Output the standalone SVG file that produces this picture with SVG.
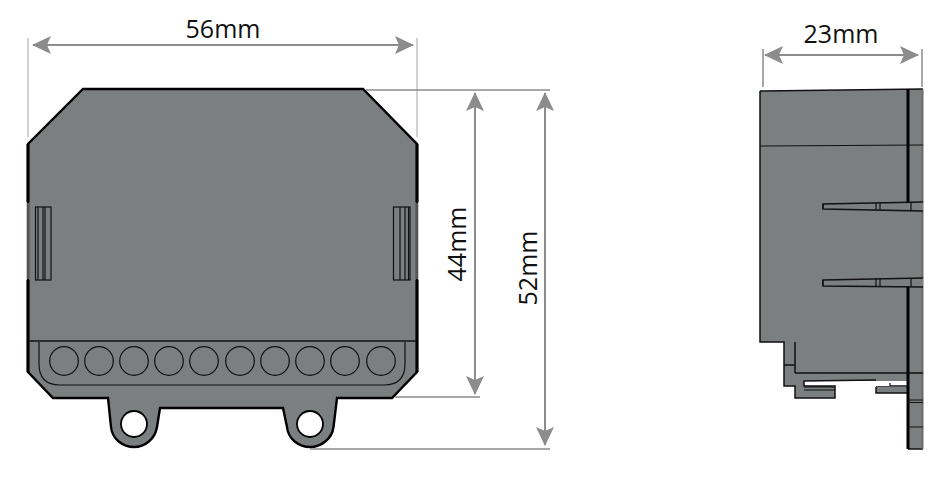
<svg xmlns="http://www.w3.org/2000/svg" width="944" height="485" viewBox="0 0 944 485">
<style>
.body{fill:#7c7f7f;stroke:#000;stroke-width:2.4;stroke-linejoin:miter}
.thick{fill:none;stroke:#000;stroke-width:3}
.thin{fill:none;stroke:#111;stroke-width:1.2}
.med{fill:none;stroke:#111;stroke-width:1.5}
.hair{fill:none;stroke:#b9b9b9;stroke-width:1.3}
.ref{fill:none;stroke:#8c8c8c;stroke-width:1.5}
.dim{fill:none;stroke:#8c8c8c;stroke-width:2}
.lbl{font-family:"Open Sans","Noto Sans",sans-serif;font-size:25px;fill:#111}
</style>
<defs>
<marker id="ah" viewBox="0 0 19 18" refX="18" refY="9" markerWidth="19" markerHeight="18" markerUnits="userSpaceOnUse" orient="auto-start-reverse">
<path d="M0 0L19 9L0 18L4 9Z" fill="#8c8c8c"/>
</marker>
</defs>
<rect width="944" height="485" fill="#fff"/>
<g id="front-view">
<path class="body" d="M83 89H363L417 144V372L392 398H337L333.500 427C332 439 321 447 310 447C299 447 288 439 287 427L283 408H160L157 427C155 439 145 447 134 447C123 447 112 439 111 427L108 398H53L28 372V144Z"/>
<path d="M28 144V202M417 144V202M28 280V372M417 280V372" class="thick"/>
<path d="M28 203V279M417 203V279" fill="none" stroke="#555" stroke-width="2"/>
<circle cx="134" cy="424" r="13" fill="#fff" stroke="#000" stroke-width="1.800"/>
<circle cx="310" cy="424" r="13" fill="#fff" stroke="#000" stroke-width="1.800"/>
<path class="med" d="M29 341H416"/>
<path class="thin" d="M39 342V364Q39 385 60 385H384Q405 385 405 364V342"/>
<g class="thin">
<circle cx="64" cy="361" r="14.300"/><circle cx="99" cy="361" r="14.300"/><circle cx="134" cy="361" r="14.300"/><circle cx="169" cy="361" r="14.300"/><circle cx="204" cy="361" r="14.300"/><circle cx="240" cy="361" r="14.300"/><circle cx="275" cy="361" r="14.300"/><circle cx="310" cy="361" r="14.300"/><circle cx="345" cy="361" r="14.300"/><circle cx="381" cy="361" r="14.300"/>
</g>
<g id="slot-left" class="thin">
<rect x="35.500" y="207" width="15.500" height="73"/>
<path d="M38 207V280M43 207V280M45 207V280"/>
</g>
<g id="slot-right" class="thin">
<rect x="393.500" y="207" width="16.500" height="73"/>
<path d="M400 207V280M405 207V280M408.500 207V280"/>
</g>
</g>
<g id="side-view">
<path fill="#7c7f7f" d="M760 91L923 89V449H908V393H876V387H908V381L804 381V386H835V398H795V386H784V342H760Z"/>
<path class="med" d="M760 91L923 89M760 91V342H784V386H795V398H835V386H804V381L876 380M876 387V393H908M876 386H908M923 449H908"/>
<path fill="#fff" d="M876 383.500H890V386H876Z"/>
<path fill="#6a6c6c" d="M921.500 89H923.500V449H921.500Z"/>
<path class="thick" stroke-width="2.400" d="M908 89V202M908 286V449"/>
<path class="thin" d="M760 146L923 145"/>
<path class="med" d="M784 365H795M795 342V373M795 373H923"/>
<path class="thin" d="M804 387H835M804 390H835M908 400H923M908 402.500H923M908 427H923"/>
<path class="thin" d="M890 383V386"/>
<g id="pin-top" class="med">
<path fill="#7c7f7f" d="M923 202L823 204V209L923 211"/>
<path d="M823 204V209M876 203V210M880 203V210M911 202V211" stroke-width="1.200"/>
</g>
<g id="pin-bottom" class="med">
<path fill="#7c7f7f" d="M923 278L823 280V286L923 287"/>
<path d="M823 280V286M876 279V286M880 279V286M911 278V287" stroke-width="1.200"/>
</g>
</g>
<g id="connectors">
<path class="hair" d="M28 38V137M417 38V137"/>
<path class="ref" d="M366 90H550M395 397H480M310 449H550"/>
<path class="ref" d="M763 49V87M922 49V87" stroke="#777"/>
<path class="dim" d="M33 45H413" marker-start="url(#ah)" marker-end="url(#ah)"/>
<path class="dim" d="M475 93V394" marker-start="url(#ah)" marker-end="url(#ah)"/>
<path class="dim" d="M545 93V445" marker-start="url(#ah)" marker-end="url(#ah)"/>
<path class="dim" d="M765 55H918" marker-start="url(#ah)" marker-end="url(#ah)"/>
</g>
<g id="labels">
<text class="lbl" x="223" y="38" text-anchor="middle">56mm</text>
<text class="lbl" x="841" y="43" text-anchor="middle">23mm</text>
<text class="lbl" text-anchor="middle" transform="translate(466 244) rotate(-90)">44mm</text>
<text class="lbl" text-anchor="middle" transform="translate(537 268) rotate(-90)">52mm</text>
</g>
</svg>
